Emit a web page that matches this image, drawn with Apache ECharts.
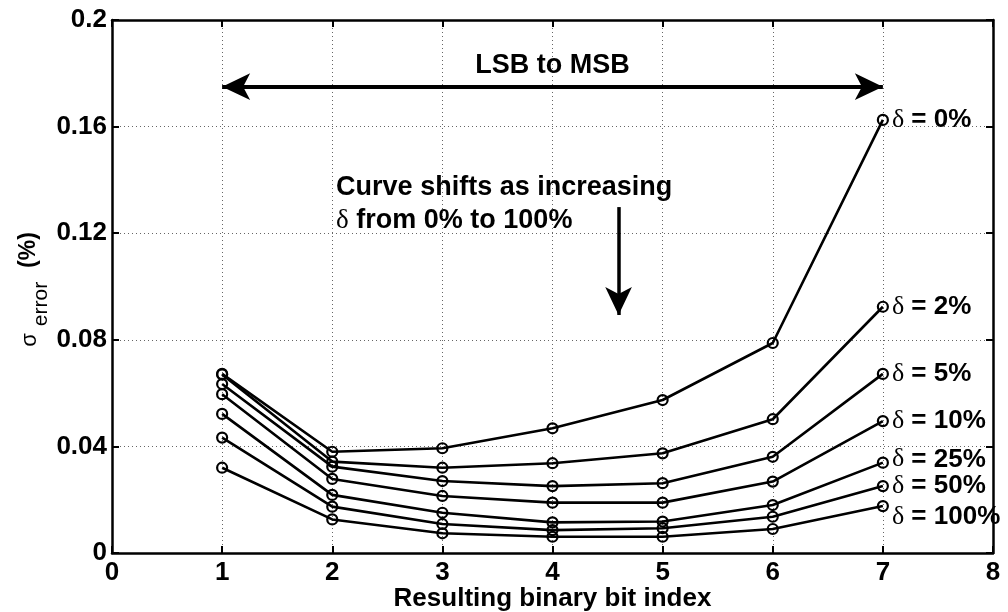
<!DOCTYPE html>
<html><head><meta charset="utf-8">
<script src="https://cdn.jsdelivr.net/npm/echarts@6/dist/echarts.min.js"></script>
<style>html,body{margin:0;padding:0;background:#fff}#c{width:1008px;height:612px}</style>
</head><body><div id="c"></div>
<script>
// ---- data ----
const bitIndex = [1, 2, 3, 4, 5, 6, 7];
const deltaNames = ['0%', '2%', '5%', '10%', '25%', '50%', '100%'];
const d0   = [0.0672, 0.0380, 0.0393, 0.0468, 0.0574, 0.0788, 0.1625];
const d2   = [0.0670, 0.0343, 0.0320, 0.0337, 0.0374, 0.0502, 0.0924];
const d5   = [0.0634, 0.0324, 0.0270, 0.0251, 0.0262, 0.0361, 0.0672];
const d10  = [0.0596, 0.0278, 0.0214, 0.0189, 0.0189, 0.0268, 0.0495];
const d25  = [0.0522, 0.0218, 0.0151, 0.0115, 0.0118, 0.0180, 0.0339];
const d50  = [0.0433, 0.0174, 0.0109, 0.0086, 0.0093, 0.0136, 0.0251];
const d100 = [0.0320, 0.0126, 0.0074, 0.0061, 0.0061, 0.0090, 0.0176];
const allSeries = [d0, d2, d5, d10, d25, d50, d100];
const xTicks = [0, 1, 2, 3, 4, 5, 6, 7, 8];
const yTickLabels = ['0', '0.04', '0.08', '0.12', '0.16', '0.2'];

const FONT = 'Liberation Sans';
const SERIF = 'Liberation Serif';
const chart = echarts.init(document.getElementById('c'), null, {renderer: 'canvas'});

const labelOffsets = [[0,0],[0,0],[0,0],[0,0],[0,-3],[0,0],[0,11]];

const axisLineStyle = {color: '#000', width: 2.5};
const tickStyle = {show: true, inside: true, length: 7, lineStyle: {color: '#000', width: 2}};
const gridLine = {show: true, lineStyle: {color: '#666', type: [1, 3], width: 1}};

const series = allSeries.map((vals, i) => ({
  type: 'line',
  name: deltaNames[i],
  data: bitIndex.map((x, j) => [x, vals[j]]),
  symbol: 'circle',
  symbolSize: 10,
  lineStyle: {color: '#000', width: 2.6},
  itemStyle: {color: 'rgba(0,0,0,0)', borderColor: '#000', borderWidth: 2.2},
  z: 3,
  endLabel: {
    show: true,
    distance: 9,
    offset: labelOffsets[i],
    formatter: () => '{d|δ}{t| = ' + deltaNames[i] + '}',
    rich: {
      d: {fontFamily: SERIF, fontSize: 26, color: '#000'},
      t: {fontFamily: FONT, fontWeight: 'bold', fontSize: 26, color: '#000'}
    }
  },
  emphasis: {disabled: true}
}));

// annotation arrows drawn in data coordinates
series[0].markLine = {
  silent: true,
  animation: false,
  label: {show: false},
  lineStyle: {color: '#000', type: 'solid', width: 4},
  symbol: ['arrow', 'arrow'],
  symbolSize: [20, 28],
  data: [
    [{coord: [1, 0.175]}, {coord: [7, 0.175]}],
    [{coord: [4.6, 0.1298], symbol: 'none', lineStyle: {width: 3.5}}, {coord: [4.6, 0.0893], lineStyle: {width: 3.5}}]
  ]
};

chart.setOption({
  animation: false,
  backgroundColor: '#fff',
  grid: {left: 112, right: 15, top: 20, bottom: 59, outerBoundsMode: 'none', containLabel: false},
  xAxis: [{
    type: 'value', min: 0, max: 8, interval: 1, position: 'bottom',
    axisLine: {show: true, onZero: false, lineStyle: axisLineStyle},
    axisTick: tickStyle,
    axisLabel: {color: '#000', fontFamily: FONT, fontWeight: 'bold', fontSize: 26, margin: 7,
      formatter: v => String(xTicks[Math.round(v)])},
    splitLine: gridLine,
    name: 'Resulting binary bit index', nameLocation: 'middle', nameGap: 33, nameMoveOverlap: false,
    nameTextStyle: {color: '#000', fontFamily: FONT, fontWeight: 'bold', fontSize: 26}
  }, {
    type: 'value', min: 0, max: 8, interval: 1, position: 'top',
    axisLine: {show: true, onZero: false, lineStyle: axisLineStyle},
    axisTick: tickStyle, axisLabel: {show: false}, splitLine: {show: false}
  }],
  yAxis: [{
    type: 'value', min: 0, max: 0.2, interval: 0.04, position: 'left',
    axisLine: {show: true, onZero: false, lineStyle: axisLineStyle},
    axisTick: tickStyle,
    axisLabel: {color: '#000', fontFamily: FONT, fontWeight: 'bold', fontSize: 26, margin: 5,
      formatter: v => yTickLabels[Math.round(v / 0.04)]},
    splitLine: gridLine
  }, {
    type: 'value', min: 0, max: 0.2, interval: 0.04, position: 'right',
    axisLine: {show: true, onZero: false, lineStyle: axisLineStyle},
    axisTick: tickStyle, axisLabel: {show: false}, splitLine: {show: false}
  }],
  series: series
});

const px = (x, y) => chart.convertToPixel({gridIndex: 0}, [x, y]);
const pLSB = px(4, 0.183);
const pCurve = px(2.035, 0.1373);

chart.setOption({
  graphic: [
    {type: 'text', x: pLSB[0], y: pLSB[1], z: 10,
      style: {text: 'LSB to MSB', align: 'center', verticalAlign: 'middle',
        fontFamily: FONT, fontWeight: 'bold', fontSize: 27, fill: '#000'}},
    {type: 'text', x: pCurve[0], y: pCurve[1] - 16, z: 10,
      style: {text: '{b|Curve shifts as increasing}\n{d|δ}{b| from 0% to 100%}', align: 'left', verticalAlign: 'top',
        rich: {
          b: {fontFamily: FONT, fontWeight: 'bold', fontSize: 27, lineHeight: 33, fill: '#000'},
          d: {fontFamily: SERIF, fontSize: 27, lineHeight: 33, fill: '#000'}
        }}},
    // y-axis title: sigma_error (%)
    {type: 'text', x: 30, y: 340, rotation: Math.PI / 2, z: 10,
      style: {text: 'σ', fontFamily: FONT, fontSize: 22, fill: '#000', align: 'center', verticalAlign: 'middle'}},
    {type: 'text', x: 41, y: 304, rotation: Math.PI / 2, z: 10,
      style: {text: 'error', fontFamily: FONT, fontSize: 21, fill: '#000', align: 'center', verticalAlign: 'middle'}},
    {type: 'text', x: 29, y: 250, rotation: Math.PI / 2, z: 10,
      style: {text: '(%)', fontFamily: FONT, fontWeight: 'bold', fontSize: 23, fill: '#000', align: 'center', verticalAlign: 'middle'}}
  ]
});
</script></body></html>
